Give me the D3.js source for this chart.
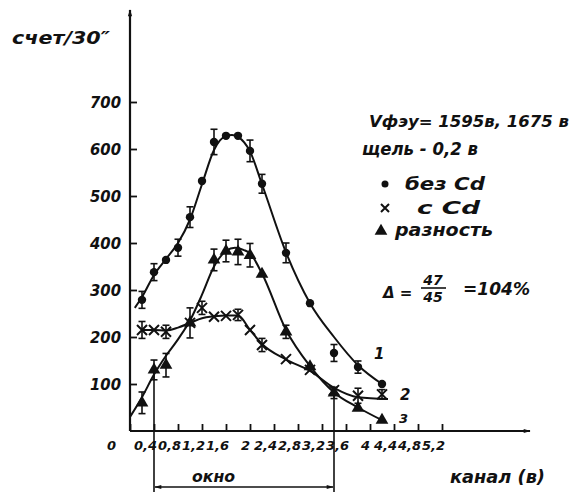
<!DOCTYPE html>
<html>
<head>
<meta charset="utf-8">
<script src="https://cdn.jsdelivr.net/npm/d3@7"></script>
<style>
  body { margin: 0; background: #fff; }
  svg text { font-family: "DejaVu Sans", sans-serif; font-style: italic; font-weight: bold; fill: #111; }
</style>
</head>
<body>
<svg id="chart" width="578" height="492"></svg>
<script>
// measured points: channel (в), count per 30", error half-width
const bezCdX   = [0.2, 0.4, 0.6, 0.8, 1.0, 1.2, 1.4, 1.6, 1.8, 2.0, 2.2, 2.6, 3.0, 3.8, 4.2];
const bezCdY   = [279, 338, 364, 390, 455, 532, 615, 628, 628, 596, 526, 379, 272, 136, 100];
const bezCdErr = [18, 18, 0, 18, 22, 0, 27, 0, 0, 23, 20, 21, 0, 13, 0];
const bezCdOffX = [3.4], bezCdOffY = [166], bezCdOffErr = [18];

const sCdX   = [0.2, 0.4, 0.6, 1.0, 1.2, 1.4, 1.6, 1.8, 2.0, 2.2, 2.6, 3.0, 3.4, 3.8, 4.2];
const sCdY   = [215, 215, 211, 230, 262, 243, 245, 247, 215, 183, 153, 130, 87, 75, 78];
const sCdErr = [18, 0, 14, 0, 14, 0, 0, 12, 0, 14, 0, 0, 0, 16, 10];

const razX   = [0.2, 0.4, 0.6, 1.0, 1.4, 1.6, 1.8, 2.0, 2.2, 2.6, 3.0, 3.4, 3.8, 4.2];
const razY   = [60, 130, 140, 230, 364, 383, 381, 374, 334, 211, 137, 81, 49, 23];
const razErr = [23, 21, 25, 32, 23, 23, 27, 25, 0, 14, 0, 12, 0, 0];

// hand-drawn smooth curves
const fit1X = [0.08, 0.2, 0.4, 0.6, 0.8, 1.0, 1.2, 1.4, 1.6, 1.7, 1.8, 2.0, 2.2, 2.6, 3.0, 3.4, 3.8, 4.2];
const fit1Y = [262, 285, 332, 366, 400, 450, 525, 598, 628, 630, 626, 595, 525, 380, 272, 200, 140, 100];
const fit2X = [0.2, 0.4, 0.6, 0.8, 1.0, 1.2, 1.4, 1.6, 1.8, 2.0, 2.2, 2.6, 3.0, 3.4, 3.8, 4.3];
const fit2Y = [215, 215, 214, 220, 230, 240, 244, 246, 246, 215, 185, 152, 128, 92, 72, 68];
const fit3X = [0, 0.2, 0.4, 0.6, 0.8, 1.0, 1.2, 1.4, 1.6, 1.75, 1.9, 2.0, 2.2, 2.6, 3.0, 3.4, 3.8, 4.2];
const fit3Y = [30, 72, 120, 160, 195, 235, 290, 350, 383, 390, 385, 378, 335, 215, 138, 82, 50, 23];

const xTicks = [0, 0.4, 0.8, 1.2, 1.6, 2.0, 2.4, 2.8, 3.2, 3.6, 4.0, 4.4, 4.8, 5.2];
const yTicks = [100, 200, 300, 400, 500, 600, 700];
const windowRange = [0.4, 3.4];

const svg = d3.select('#chart');

const x = d3.scaleLinear().domain([0, 5.2]).range([130, 442]);
const y = d3.scaleLinear().domain([0, 700]).range([431, 102]);

// arrow heads
const defs = svg.append('defs');
defs.append('marker')
    .attr('id', 'arr')
    .attr('viewBox', '0 0 10 10')
    .attr('refX', 9).attr('refY', 5)
    .attr('markerWidth', 9).attr('markerHeight', 7)
    .attr('orient', 'auto-start-reverse')
    .attr('markerUnits', 'userSpaceOnUse')
    .append('path').attr('d', 'M0,2 L10,5 L0,8 Z').attr('fill', '#111');

// axis lines with arrows
svg.append('line')
    .attr('x1', x(0)).attr('y1', y(0)).attr('x2', x(0)).attr('y2', 10)
    .attr('stroke', '#111').attr('stroke-width', 2.2).attr('marker-end', 'url(#arr)');
svg.append('line')
    .attr('x1', x(0)).attr('y1', y(0)).attr('x2', 530).attr('y2', y(0))
    .attr('stroke', '#111').attr('stroke-width', 2.2).attr('marker-end', 'url(#arr)');

const yAxis = d3.axisLeft(y).tickValues(yTicks).tickSizeInner(-7).tickSizeOuter(0).tickPadding(9);
const gy = svg.append('g').attr('transform', 'translate(' + x(0) + ',0)').call(yAxis);
gy.select('.domain').remove();
gy.selectAll('line').attr('stroke', '#111').attr('stroke-width', 1.8);
gy.selectAll('text').style('font-size', '16px').attr('dy', '0.35em')
    .attr('textLength', 31).attr('lengthAdjust', 'spacingAndGlyphs');

const xAxis = d3.axisBottom(x).tickValues(xTicks).tickSizeInner(-7).tickSizeOuter(0).tickPadding(8)
    .tickFormat(d => String(+d.toFixed(1)).replace('.', ','));
const gx = svg.append('g').attr('transform', 'translate(0,' + y(0) + ')').call(xAxis);
gx.select('.domain').remove();
gx.selectAll('line').attr('stroke', '#111').attr('stroke-width', 1.8);
gx.selectAll('text').style('font-size', '13px')
    .attr('dx', d => d === 0 ? -19 : (Number.isInteger(d) ? -5 : -9)).attr('dy', '0.85em');

// curves
const line = d3.line().x(d => x(d[0])).y(d => y(d[1])).curve(d3.curveMonotoneX);
[[fit1X, fit1Y], [fit2X, fit2Y], [fit3X, fit3Y]].forEach(([xs, ys]) => {
    svg.append('path')
        .datum(xs.map((v, i) => [v, ys[i]]))
        .attr('d', line)
        .attr('fill', 'none')
        .attr('stroke', '#111')
        .attr('stroke-width', 2);
});

function errorBars(xs, ys, es) {
    const pts = xs.map((v, i) => ({ x: v, y: ys[i], e: es[i] })).filter(d => d.e > 0);
    const g = svg.append('g').attr('stroke', '#111').attr('stroke-width', 1.6);
    pts.forEach(d => {
        g.append('line').attr('x1', x(d.x)).attr('x2', x(d.x)).attr('y1', y(d.y - d.e)).attr('y2', y(d.y + d.e));
        [d.y - d.e, d.y + d.e].forEach(v => {
            g.append('line').attr('x1', x(d.x) - 3.5).attr('x2', x(d.x) + 3.5).attr('y1', y(v)).attr('y2', y(v));
        });
    });
}

function dots(xs, ys) {
    svg.append('g').selectAll('circle')
        .data(xs.map((v, i) => [v, ys[i]]))
        .enter().append('circle')
        .attr('cx', d => x(d[0])).attr('cy', d => y(d[1])).attr('r', 4.2)
        .attr('fill', '#111');
}

function crosses(xs, ys) {
    svg.append('g').selectAll('path')
        .data(xs.map((v, i) => [v, ys[i]]))
        .enter().append('path')
        .attr('transform', d => 'translate(' + x(d[0]) + ',' + y(d[1]) + ')')
        .attr('d', 'M-5,-5L5,5M-5,5L5,-5')
        .attr('stroke', '#111').attr('stroke-width', 2);
}

const tri = d3.symbol(d3.symbolTriangle, 70);
function triangles(xs, ys) {
    svg.append('g').selectAll('path')
        .data(xs.map((v, i) => [v, ys[i]]))
        .enter().append('path')
        .attr('transform', d => 'translate(' + x(d[0]) + ',' + y(d[1]) + ')')
        .attr('d', tri)
        .attr('fill', '#111');
}

errorBars(bezCdX, bezCdY, bezCdErr);
errorBars(bezCdOffX, bezCdOffY, bezCdOffErr);
errorBars(sCdX, sCdY, sCdErr);
errorBars(razX, razY, razErr);
dots(bezCdX, bezCdY);
dots(bezCdOffX, bezCdOffY);
crosses(sCdX, sCdY);
triangles(razX, razY);

// window ("окно")
const winTop = [razY[1], razY[11]];
windowRange.forEach((w, i) => {
    svg.append('line')
        .attr('x1', x(w)).attr('x2', x(w)).attr('y1', y(winTop[i])).attr('y2', 492)
        .attr('stroke', '#111').attr('stroke-width', 1.6);
});
svg.append('line')
    .attr('x1', x(windowRange[0]) + 1).attr('x2', x(windowRange[1]) - 1)
    .attr('y1', 487).attr('y2', 487)
    .attr('stroke', '#111').attr('stroke-width', 1.6)
    .attr('marker-start', 'url(#arr)').attr('marker-end', 'url(#arr)');

function label(tx, ty, size, len, str) {
    return svg.append('text').attr('x', tx).attr('y', ty).style('font-size', size + 'px')
        .attr('textLength', len).attr('lengthAdjust', 'spacingAndGlyphs').text(str);
}

label(192, 482, 15, 43, 'окно');

// axis titles
label(12, 44, 18, 98, 'счет/30″');
label(450, 483, 17, 95, 'канал (в)');

// curve numbers
svg.append('text').attr('x', 374).attr('y', 359).style('font-size', '15px').text('1');
svg.append('text').attr('x', 400).attr('y', 400).style('font-size', '15px').text('2');
svg.append('text').attr('x', 399).attr('y', 423).style('font-size', '13px').text('3');

// notes and legend
label(369, 127, 16, 200, 'Vфэу= 1595в, 1675 в');
label(362, 155, 17, 116, 'щель - 0,2 в');

svg.append('circle').attr('cx', 385).attr('cy', 184).attr('r', 3.5).attr('fill', '#111');
label(405, 190, 18, 80, 'без  Cd');
svg.append('path').attr('transform', 'translate(385,208)').attr('d', 'M-4,-4L4,4M-4,4L4,-4')
    .attr('stroke', '#111').attr('stroke-width', 2);
label(417, 214, 18, 63, 'c   Cd');
svg.append('path').attr('transform', 'translate(381,231)').attr('d', d3.symbol(d3.symbolTriangle, 70))
    .attr('fill', '#111');
label(395, 236, 18, 98, 'разность');

svg.append('text').attr('x', 383).attr('y', 298).style('font-size', '15px').text('Δ =');
svg.append('text').attr('x', 433).attr('y', 285).attr('text-anchor', 'middle').style('font-size', '14px').text('47');
svg.append('line').attr('x1', 421).attr('x2', 446).attr('y1', 288).attr('y2', 288).attr('stroke', '#111').attr('stroke-width', 1.6);
svg.append('text').attr('x', 433).attr('y', 302).attr('text-anchor', 'middle').style('font-size', '14px').text('45');
label(463, 295, 17, 67, '=104%');
</script>
</body>
</html>
